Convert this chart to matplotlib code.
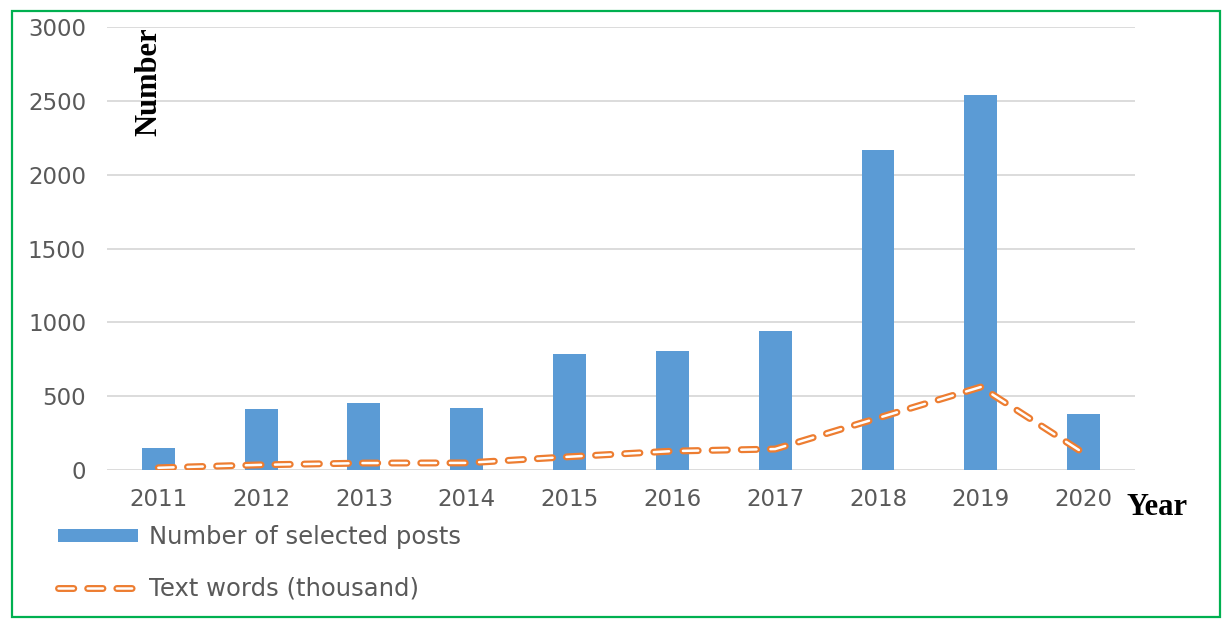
"""Selected posts per year with text word counts (thousand)."""

import matplotlib
matplotlib.use('Agg')
import matplotlib.pyplot as plt
import matplotlib.patheffects as pe
from matplotlib.patches import Rectangle
import numpy as np

plt.rcParams['lines.scale_dashes'] = False

years = ["2011", "2012", "2013", "2014", "2015", "2016", "2017", "2018", "2019", "2020"]
posts = [150, 415, 455, 420, 785, 805, 940, 2165, 2540, 380]
words = [15, 35, 47, 48, 90, 128, 142, 352, 562, 115]

bar_color = "#5B9BD5"
line_color = "#ED7D31"
text_color = "#595959"

fig = plt.figure(figsize=(12.29, 6.27), dpi=100, facecolor="white")
ax = fig.add_axes([0.087, 0.2504, 0.8365, 0.7065])

x = np.arange(len(years))
bars = ax.bar(x, posts, width=0.32, color=bar_color, zorder=2)

# compound line: white dashes with an orange outline
line, = ax.plot(x, words, color="white", lw=1.8, linestyle=(0, (11, 10)),
                dash_capstyle="round", zorder=3,
                path_effects=[pe.Stroke(linewidth=5, foreground=line_color),
                              pe.Normal()])

ax.set_xlim(-0.5, len(years) - 0.5)
ax.set_ylim(0, 3000)
ax.set_yticks(np.arange(0, 3001, 500))
ax.set_xticks(x)
ax.set_xticklabels(years)
ax.tick_params(axis="both", length=0, labelsize=16.5, labelcolor=text_color)
ax.tick_params(axis="y", pad=15)
ax.tick_params(axis="x", pad=13)
ax.grid(axis="y", color="#D9D9D9", lw=1.3, zorder=0)
for s in ax.spines.values():
    s.set_visible(False)

fig.text(0.121, 0.957, "Number", rotation=90, ha="center", va="top",
         fontsize=22, fontweight="bold", family="Liberation Serif")
fig.text(0.917, 0.19, "Year", ha="left", va="center",
         fontsize=22, fontweight="bold", family="Liberation Serif")

leg = fig.legend([bars, line],
                 ["Number of selected posts", "Text words (thousand)"],
                 loc="upper left", bbox_to_anchor=(0.029, 0.198),
                 frameon=False, fontsize=17.5, labelcolor=text_color,
                 handlelength=3.3, handleheight=0.45, handletextpad=0.45,
                 labelspacing=1.15)

fig.patches.append(Rectangle((0.0098, 0.016), 0.9829, 0.966, transform=fig.transFigure,
                             fill=False, edgecolor="#00B050", lw=1.6))

plt.savefig("out.png", dpi=100, facecolor="white")
